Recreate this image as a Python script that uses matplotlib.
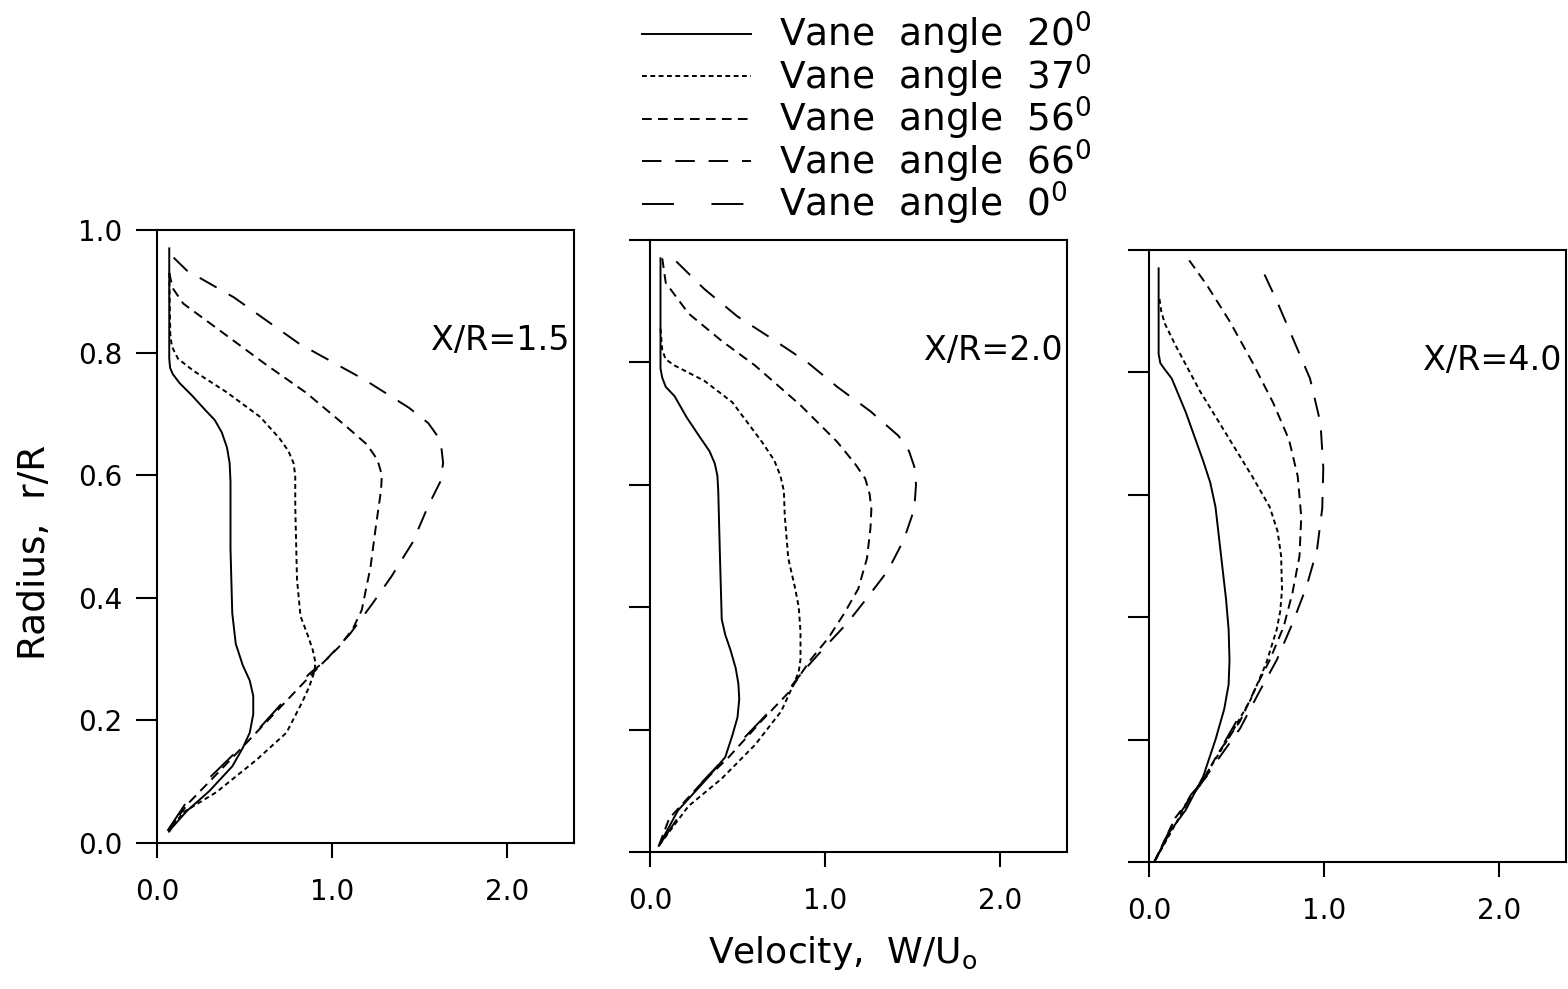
import matplotlib
matplotlib.use("Agg")
import matplotlib.pyplot as plt

plt.rcParams["font.family"] = ["DejaVu Sans"]
plt.rcParams["mathtext.default"] = "regular"
plt.rcParams["lines.scale_dashes"] = False

# Vane angles and their line styles
angles = ["20", "37", "56", "66", "0"]
styles = {
    "20": "-",
    "37": (0, (3.5, 2.5)),
    "56": (0, (7, 4.5)),
    "66": (0, (14, 10)),
    "0": (0, (23, 27)),
}

stations = ["X/R=1.5", "X/R=2.0", "X/R=4.0"]

# --- X/R = 1.5 : velocity W/Uo (w) against radius r/R (r) ---
w15_20 = [0.07, 0.07, 0.075, 0.09, 0.13, 0.20, 0.28, 0.33, 0.37, 0.40, 0.415, 0.42, 0.42, 0.43, 0.45, 0.49, 0.53, 0.55, 0.55, 0.53, 0.49, 0.43, 0.30, 0.17, 0.07]
r15_20 = [0.97, 0.79, 0.775, 0.765, 0.75, 0.73, 0.705, 0.69, 0.67, 0.645, 0.62, 0.59, 0.48, 0.375, 0.325, 0.29, 0.265, 0.24, 0.21, 0.18, 0.155, 0.125, 0.085, 0.052, 0.02]
w15_37 = [0.07, 0.076, 0.085, 0.12, 0.21, 0.40, 0.59, 0.70, 0.75, 0.78, 0.79, 0.79, 0.80, 0.82, 0.86, 0.89, 0.905, 0.90, 0.87, 0.83, 0.74, 0.57, 0.34, 0.15, 0.06]
r15_37 = [0.93, 0.83, 0.81, 0.79, 0.77, 0.735, 0.695, 0.66, 0.64, 0.62, 0.60, 0.55, 0.43, 0.37, 0.34, 0.315, 0.295, 0.28, 0.255, 0.23, 0.18, 0.136, 0.083, 0.05, 0.015]
w15_56 = [0.07, 0.09, 0.15, 0.34, 0.625, 0.85, 1.08, 1.20, 1.26, 1.285, 1.28, 1.25, 1.22, 1.17, 1.12, 1.04, 0.97, 0.92, 0.75, 0.55, 0.35, 0.18, 0.06]
r15_56 = [0.93, 0.905, 0.88, 0.84, 0.78, 0.735, 0.68, 0.65, 0.625, 0.60, 0.575, 0.515, 0.45, 0.38, 0.35, 0.32, 0.30, 0.286, 0.235, 0.175, 0.115, 0.065, 0.02]
w15_66 = [0.095, 0.17, 0.44, 0.81, 1.19, 1.44, 1.55, 1.60, 1.625, 1.635, 1.62, 1.55, 1.46, 1.34, 1.23, 1.10, 0.97]
r15_66 = [0.955, 0.934, 0.89, 0.815, 0.755, 0.71, 0.685, 0.665, 0.645, 0.62, 0.59, 0.55, 0.49, 0.435, 0.39, 0.34, 0.30]
w15_0 = [0.06, 0.19, 0.36, 0.55, 0.72, 0.87, 0.93]
r15_0 = [0.02, 0.076, 0.123, 0.176, 0.23, 0.276, 0.29]

# --- X/R = 2.0 ---
w20_20 = [0.06, 0.06, 0.07, 0.09, 0.14, 0.21, 0.28, 0.34, 0.37, 0.385, 0.39, 0.40, 0.41, 0.43, 0.46, 0.49, 0.505, 0.51, 0.50, 0.47, 0.43, 0.31, 0.16, 0.05]
r20_20 = [0.97, 0.79, 0.775, 0.76, 0.745, 0.71, 0.68, 0.655, 0.635, 0.615, 0.59, 0.48, 0.38, 0.355, 0.33, 0.30, 0.275, 0.25, 0.22, 0.19, 0.155, 0.115, 0.068, 0.01]
w20_37 = [0.06, 0.07, 0.09, 0.14, 0.31, 0.47, 0.64, 0.71, 0.745, 0.765, 0.77, 0.79, 0.83, 0.85, 0.86, 0.86, 0.85, 0.83, 0.75, 0.60, 0.41, 0.22, 0.05]
r20_37 = [0.855, 0.82, 0.805, 0.795, 0.77, 0.735, 0.67, 0.64, 0.615, 0.59, 0.55, 0.48, 0.43, 0.40, 0.36, 0.315, 0.295, 0.28, 0.23, 0.175, 0.12, 0.075, 0.01]
w20_56 = [0.07, 0.09, 0.22, 0.41, 0.60, 0.86, 1.07, 1.17, 1.23, 1.255, 1.265, 1.26, 1.24, 1.19, 1.11, 1.02, 0.92, 0.86, 0.79, 0.64, 0.45, 0.28, 0.11, 0.05]
r20_56 = [0.97, 0.93, 0.88, 0.835, 0.795, 0.73, 0.67, 0.635, 0.61, 0.585, 0.56, 0.53, 0.48, 0.43, 0.39, 0.35, 0.315, 0.29, 0.26, 0.215, 0.155, 0.108, 0.055, 0.01]
w20_66 = [0.15, 0.31, 0.50, 0.69, 0.90, 1.07, 1.26, 1.42, 1.48, 1.51, 1.52, 1.51, 1.45, 1.36, 1.24, 1.13, 1.00, 0.89]
r20_66 = [0.965, 0.92, 0.875, 0.84, 0.80, 0.76, 0.72, 0.68, 0.655, 0.63, 0.60, 0.56, 0.51, 0.46, 0.415, 0.375, 0.335, 0.30]
w20_0 = [0.05, 0.30, 0.55, 0.75, 0.86]
r20_0 = [0.01, 0.115, 0.19, 0.25, 0.29]

# --- X/R = 4.0 ---
w40_20 = [0.055, 0.055, 0.065, 0.09, 0.13, 0.21, 0.31, 0.35, 0.38, 0.40, 0.42, 0.44, 0.455, 0.46, 0.455, 0.43, 0.38, 0.31, 0.21, 0.12, 0.03]
r40_20 = [0.97, 0.83, 0.815, 0.805, 0.79, 0.735, 0.655, 0.62, 0.58, 0.53, 0.48, 0.43, 0.38, 0.33, 0.29, 0.25, 0.20, 0.14, 0.085, 0.05, 0.0]
w40_37 = [0.06, 0.07, 0.09, 0.15, 0.29, 0.44, 0.59, 0.69, 0.735, 0.755, 0.76, 0.75, 0.73, 0.67, 0.58, 0.46, 0.33, 0.21, 0.03]
r40_37 = [0.92, 0.90, 0.88, 0.845, 0.77, 0.70, 0.63, 0.58, 0.54, 0.50, 0.445, 0.41, 0.38, 0.325, 0.265, 0.205, 0.145, 0.092, 0.0]
w40_56 = [0.23, 0.33, 0.46, 0.59, 0.71, 0.80, 0.85, 0.87, 0.86, 0.82, 0.77, 0.69, 0.61, 0.52, 0.40, 0.29, 0.15, 0.03]
r40_56 = [0.983, 0.943, 0.884, 0.817, 0.75, 0.69, 0.63, 0.564, 0.50, 0.44, 0.385, 0.33, 0.285, 0.23, 0.18, 0.125, 0.072, 0.0]
w40_66 = [0.66, 0.73, 0.82, 0.92, 0.98, 0.996, 0.99, 0.96, 0.90, 0.82, 0.73, 0.63, 0.52, 0.40, 0.29, 0.14, 0.03]
r40_66 = [0.96, 0.917, 0.857, 0.79, 0.717, 0.644, 0.578, 0.51, 0.45, 0.39, 0.33, 0.278, 0.218, 0.17, 0.125, 0.065, 0.0]
w40_0 = [0.03, 0.14, 0.24, 0.33, 0.42, 0.50]
r40_0 = [0.0, 0.06, 0.11, 0.14, 0.19, 0.23]

profiles = [
    {"20": (w15_20, r15_20), "37": (w15_37, r15_37), "56": (w15_56, r15_56),
     "66": (w15_66, r15_66), "0": (w15_0, r15_0)},
    {"20": (w20_20, r20_20), "37": (w20_37, r20_37), "56": (w20_56, r20_56),
     "66": (w20_66, r20_66), "0": (w20_0, r20_0)},
    {"20": (w40_20, r40_20), "37": (w40_37, r40_37), "56": (w40_56, r40_56),
     "66": (w40_66, r40_66), "0": (w40_0, r40_0)},
]

x_ticks = [0.0, 1.0, 2.0]
x_ticklabels = ["0.0", "1.0", "2.0"]
y_ticks = [0.0, 0.2, 0.4, 0.6, 0.8, 1.0]
y_ticklabels = ["0.0", "0.2", "0.4", "0.6", "0.8", "1.0"]

W, H = 1568, 989
fig = plt.figure(figsize=(W / 100, H / 100), dpi=100)

# panel frames in pixels: left, bottom(0.0 line), top(1.0 line)
frames = [(157, 843, 230), (650, 852, 240), (1149, 862, 250)]
x_max = 2.38
px_per_unit = 175

axes = []
for i, (left, bot, top) in enumerate(frames):
    ax = fig.add_axes([left / W, 1 - bot / H, x_max * px_per_unit / W, (bot - top) / H])
    ax.set_xlim(0, x_max)
    ax.set_ylim(0, 1.0)
    for s in ax.spines.values():
        s.set_linewidth(1.5)
    ax.tick_params(direction="out", width=1.5, labelsize=20)
    ax.tick_params(axis="x", length=11, pad=14)
    ax.tick_params(axis="y", length=15, pad=10)
    ax.set_xticks(x_ticks)
    ax.set_xticklabels(x_ticklabels)
    ax.set_yticks(y_ticks)
    if i == 0:
        ax.set_yticklabels(y_ticklabels)
    else:
        ax.set_yticklabels([])
    for a in angles:
        w, r = profiles[i][a]
        ax.plot(w, r, color="black", lw=1.4, linestyle=styles[a],
                label="Vane  angle  " + a + "$^{0}$")
    ax.text(2.36, 0.82, stations[i], ha="right", va="center", fontsize=24)
    axes.append(ax)

handles, labels = axes[0].get_legend_handles_labels()
fig.legend(handles, labels, loc="upper left", bbox_to_anchor=(642 / W, 1 - 10 / H),
           frameon=False, fontsize=27, handlelength=2.9, handletextpad=0.75,
           labelspacing=-0.12, borderpad=0, borderaxespad=0)

fig.text(35 / W, 1 - 552 / H, "Radius,  r/R", rotation=90, ha="center", va="center", fontsize=27)
fig.text(843 / W, 1 - 953 / H, "Velocity,  W/U$_{o}$", ha="center", va="center", fontsize=26)

fig.savefig("out.png", dpi=100)
